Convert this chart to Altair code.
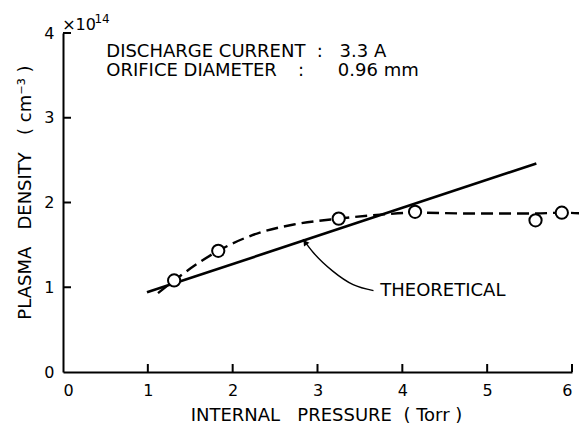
import altair as alt
import pandas as pd

# ---- data ----
x_tick_values = [0, 1, 2, 3, 4, 5, 6]
y_tick_values = [0, 1, 2, 3, 4]
x_inner_ticks = [1, 2, 3, 4, 5, 6]
y_inner_ticks = [1, 2, 3, 4]

meas_pressure = [1.31, 1.83, 3.25, 4.15, 5.57, 5.88]
meas_density = [1.08, 1.43, 1.81, 1.89, 1.79, 1.88]

fit_pressure = [1.12, 1.31, 1.83, 2.32, 2.72, 3.25, 3.78, 4.15, 4.8, 5.57, 5.88, 6.12]
fit_density = [0.93, 1.08, 1.43, 1.645, 1.74, 1.81, 1.86, 1.88, 1.87, 1.87, 1.88, 1.87]

theory_pressure = [0.99, 5.58]
theory_density = [0.94, 2.46]

arrow_pressure = [2.83, 2.95, 3.18, 3.42, 3.66]
arrow_density = [1.566, 1.41, 1.19, 1.03, 0.96]

note_text = ["DISCHARGE CURRENT", ":", "3.3 A", "ORIFICE DIAMETER", ":", "0.96 mm", "THEORETICAL"]
note_p = [0.51, 2.99, 3.26, 0.51, 2.77, 3.24, 3.74]
note_n = [3.78, 3.78, 3.78, 3.55, 3.55, 3.55, 0.95]

NB = "\u00a0"
x_title = f"INTERNAL{NB}{NB} PRESSURE{NB} ({NB}Torr{NB})"
y_title = f"PLASMA{NB}{NB} DENSITY{NB}{NB} ({NB}cm⁻³{NB})"

FONT = "DejaVu Sans"

xs = alt.Scale(domain=[0, 6], nice=False, zero=False)
ys = alt.Scale(domain=[0, 4], nice=False, zero=False)

meas = pd.DataFrame({"p": meas_pressure, "n": meas_density})
fit = pd.DataFrame({"p": fit_pressure, "n": fit_density, "o": list(range(len(fit_pressure)))})
theo = pd.DataFrame({"p": theory_pressure, "n": theory_density})
arrow = pd.DataFrame({"p": arrow_pressure, "n": arrow_density, "o": list(range(len(arrow_pressure)))})

base_x = alt.X("p:Q", scale=xs,
               axis=alt.Axis(values=x_tick_values, format="d", ticks=False, grid=False,
                             domainColor="black", domainWidth=2, labelFont=FONT,
                             labelFontSize=16, labelColor="black", labelPadding=10,
                             title=x_title, titleFont=FONT,
                             titleFontSize=18, titleFontWeight="normal", titleColor="black",
                             titleX=263, titleY=48, titleBaseline="alphabetic"))
base_y = alt.Y("n:Q", scale=ys,
               axis=alt.Axis(values=y_tick_values, format="d", ticks=False, grid=False,
                             domainColor="black", domainWidth=2, labelFont=FONT,
                             labelFontSize=16, labelColor="black", labelPadding=9,
                             title=y_title, titleFont=FONT,
                             titleFontSize=18, titleFontWeight="normal", titleColor="black",
                             titleX=-38, titleY=159, titleAngle=-90,
                             titleBaseline="middle", titleAlign="center"))

theory_line = alt.Chart(theo).mark_line(color="black", strokeWidth=2.6).encode(x=base_x, y=base_y)

fit_line = alt.Chart(fit).mark_line(color="black", strokeWidth=2.4, strokeDash=[12, 6],
                                    interpolate="monotone").encode(
    x=alt.X("p:Q", scale=xs), y=alt.Y("n:Q", scale=ys), order="o:Q")

points = alt.Chart(meas).mark_point(shape="circle", size=150, filled=True, fill="white",
                                    stroke="black", strokeWidth=2, opacity=1).encode(
    x=alt.X("p:Q", scale=xs), y=alt.Y("n:Q", scale=ys))

arrow_line = alt.Chart(arrow).mark_line(color="black", strokeWidth=1.4,
                                        interpolate="monotone").encode(
    x=alt.X("p:Q", scale=xs), y=alt.Y("n:Q", scale=ys), order="o:Q")

arrow_head = alt.Chart(pd.DataFrame({"p": arrow_pressure[:1], "n": arrow_density[:1]})).mark_point(
    shape="triangle-up", size=45, filled=True, color="black", angle=325, opacity=1,
    yOffset=3, xOffset=2).encode(x=alt.X("p:Q", scale=xs), y=alt.Y("n:Q", scale=ys))

# inner ticks
xt = alt.Chart(pd.DataFrame({"p": x_inner_ticks})).mark_rule(color="black", strokeWidth=2).encode(
    x=alt.X("p:Q", scale=xs), y=alt.value(339), y2=alt.value(331))
yt = alt.Chart(pd.DataFrame({"n": y_inner_ticks})).mark_rule(color="black", strokeWidth=2).encode(
    y=alt.Y("n:Q", scale=ys), x=alt.value(0), x2=alt.value(8))

# texts
labels = pd.DataFrame({"p": note_p, "n": note_n, "t": note_text})
texts = alt.Chart(labels).mark_text(align="left", baseline="middle", font=FONT, fontSize=18,
                                    color="black").encode(
    x=alt.X("p:Q", scale=xs), y=alt.Y("n:Q", scale=ys), text="t:N")

mult = alt.Chart(pd.DataFrame({"p": [-0.01], "n": [4.10], "t": ["×10"]})).mark_text(
    align="left", baseline="middle", font=FONT, fontSize=16, color="black").encode(
    x=alt.X("p:Q", scale=xs), y=alt.Y("n:Q", scale=ys), text="t:N")
expo = alt.Chart(pd.DataFrame({"p": [0.37], "n": [4.17], "t": ["14"]})).mark_text(
    align="left", baseline="middle", font=FONT, fontSize=12, color="black").encode(
    x=alt.X("p:Q", scale=xs), y=alt.Y("n:Q", scale=ys), text="t:N")

chart = alt.layer(theory_line, fit_line, points, arrow_line, arrow_head, xt, yt, texts,
                  mult, expo).properties(
    width=509, height=339,
    autosize=alt.AutoSizeParams(type="none"),
    padding={"left": 55, "top": 25, "right": 7, "bottom": 51},
    background="white",
).configure_view(stroke=None)

chart.save("out.html", embed_options={"renderer": "svg", "actions": False})
